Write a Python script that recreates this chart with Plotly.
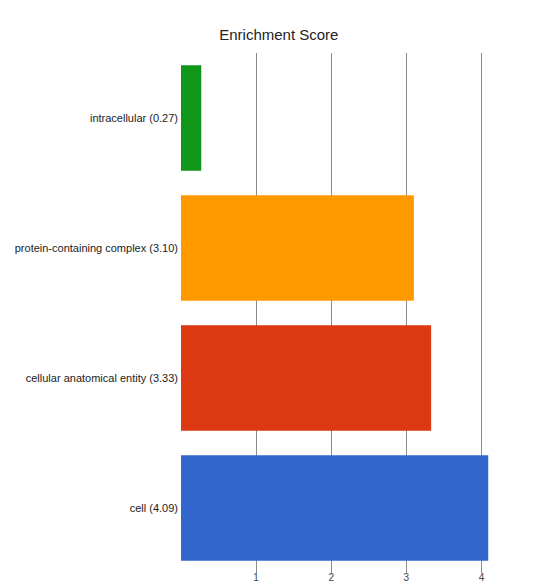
import plotly.graph_objects as go

# GO cellular-component terms and their enrichment scores
terms = ["intracellular", "protein-containing complex", "cellular anatomical entity", "cell"]
scores = [0.27, 3.10, 3.33, 4.09]
colors = ["#109618", "#ff9900", "#dc3912", "#3366cc"]
x_ticks = [1, 2, 3, 4]

labels = [f"{t} ({s:.2f})" for t, s in zip(terms, scores)]

fig = go.Figure(
    go.Bar(
        x=scores,
        y=labels,
        orientation="h",
        marker=dict(color=colors, line=dict(width=0)),
        width=0.81,
        hoverinfo="x+y",
    )
)

fig.update_layout(
    width=550,
    height=584,
    margin=dict(l=181, r=46, t=53, b=11, autoexpand=False),
    paper_bgcolor="white",
    plot_bgcolor="white",
    showlegend=False,
    font=dict(family="Liberation Sans, Arial, sans-serif", size=11, color="#222"),
    title=dict(
        text="Enrichment Score",
        x=0.507,
        xanchor="center",
        y=1 - 35 / 584,
        yanchor="middle",
        font=dict(size=15, color="#222"),
    ),
    xaxis=dict(
        range=[0, 4.3],
        tickvals=x_ticks,
        ticktext=[str(v) for v in x_ticks],
        showgrid=True,
        gridcolor="#8a8a8a",
        gridwidth=1,
        zeroline=False,
        showline=False,
        ticks="",
        automargin=False,
        ticklabelstandoff=-3,
        tickfont=dict(size=10, color="#444"),
        fixedrange=True,
    ),
    yaxis=dict(
        autorange="reversed",
        showgrid=False,
        zeroline=False,
        showline=False,
        ticks="",
        automargin=False,
        ticklabelstandoff=2,
        tickfont=dict(size=11, color="#222"),
        fixedrange=True,
    ),
)

fig.write_html("out.html")
